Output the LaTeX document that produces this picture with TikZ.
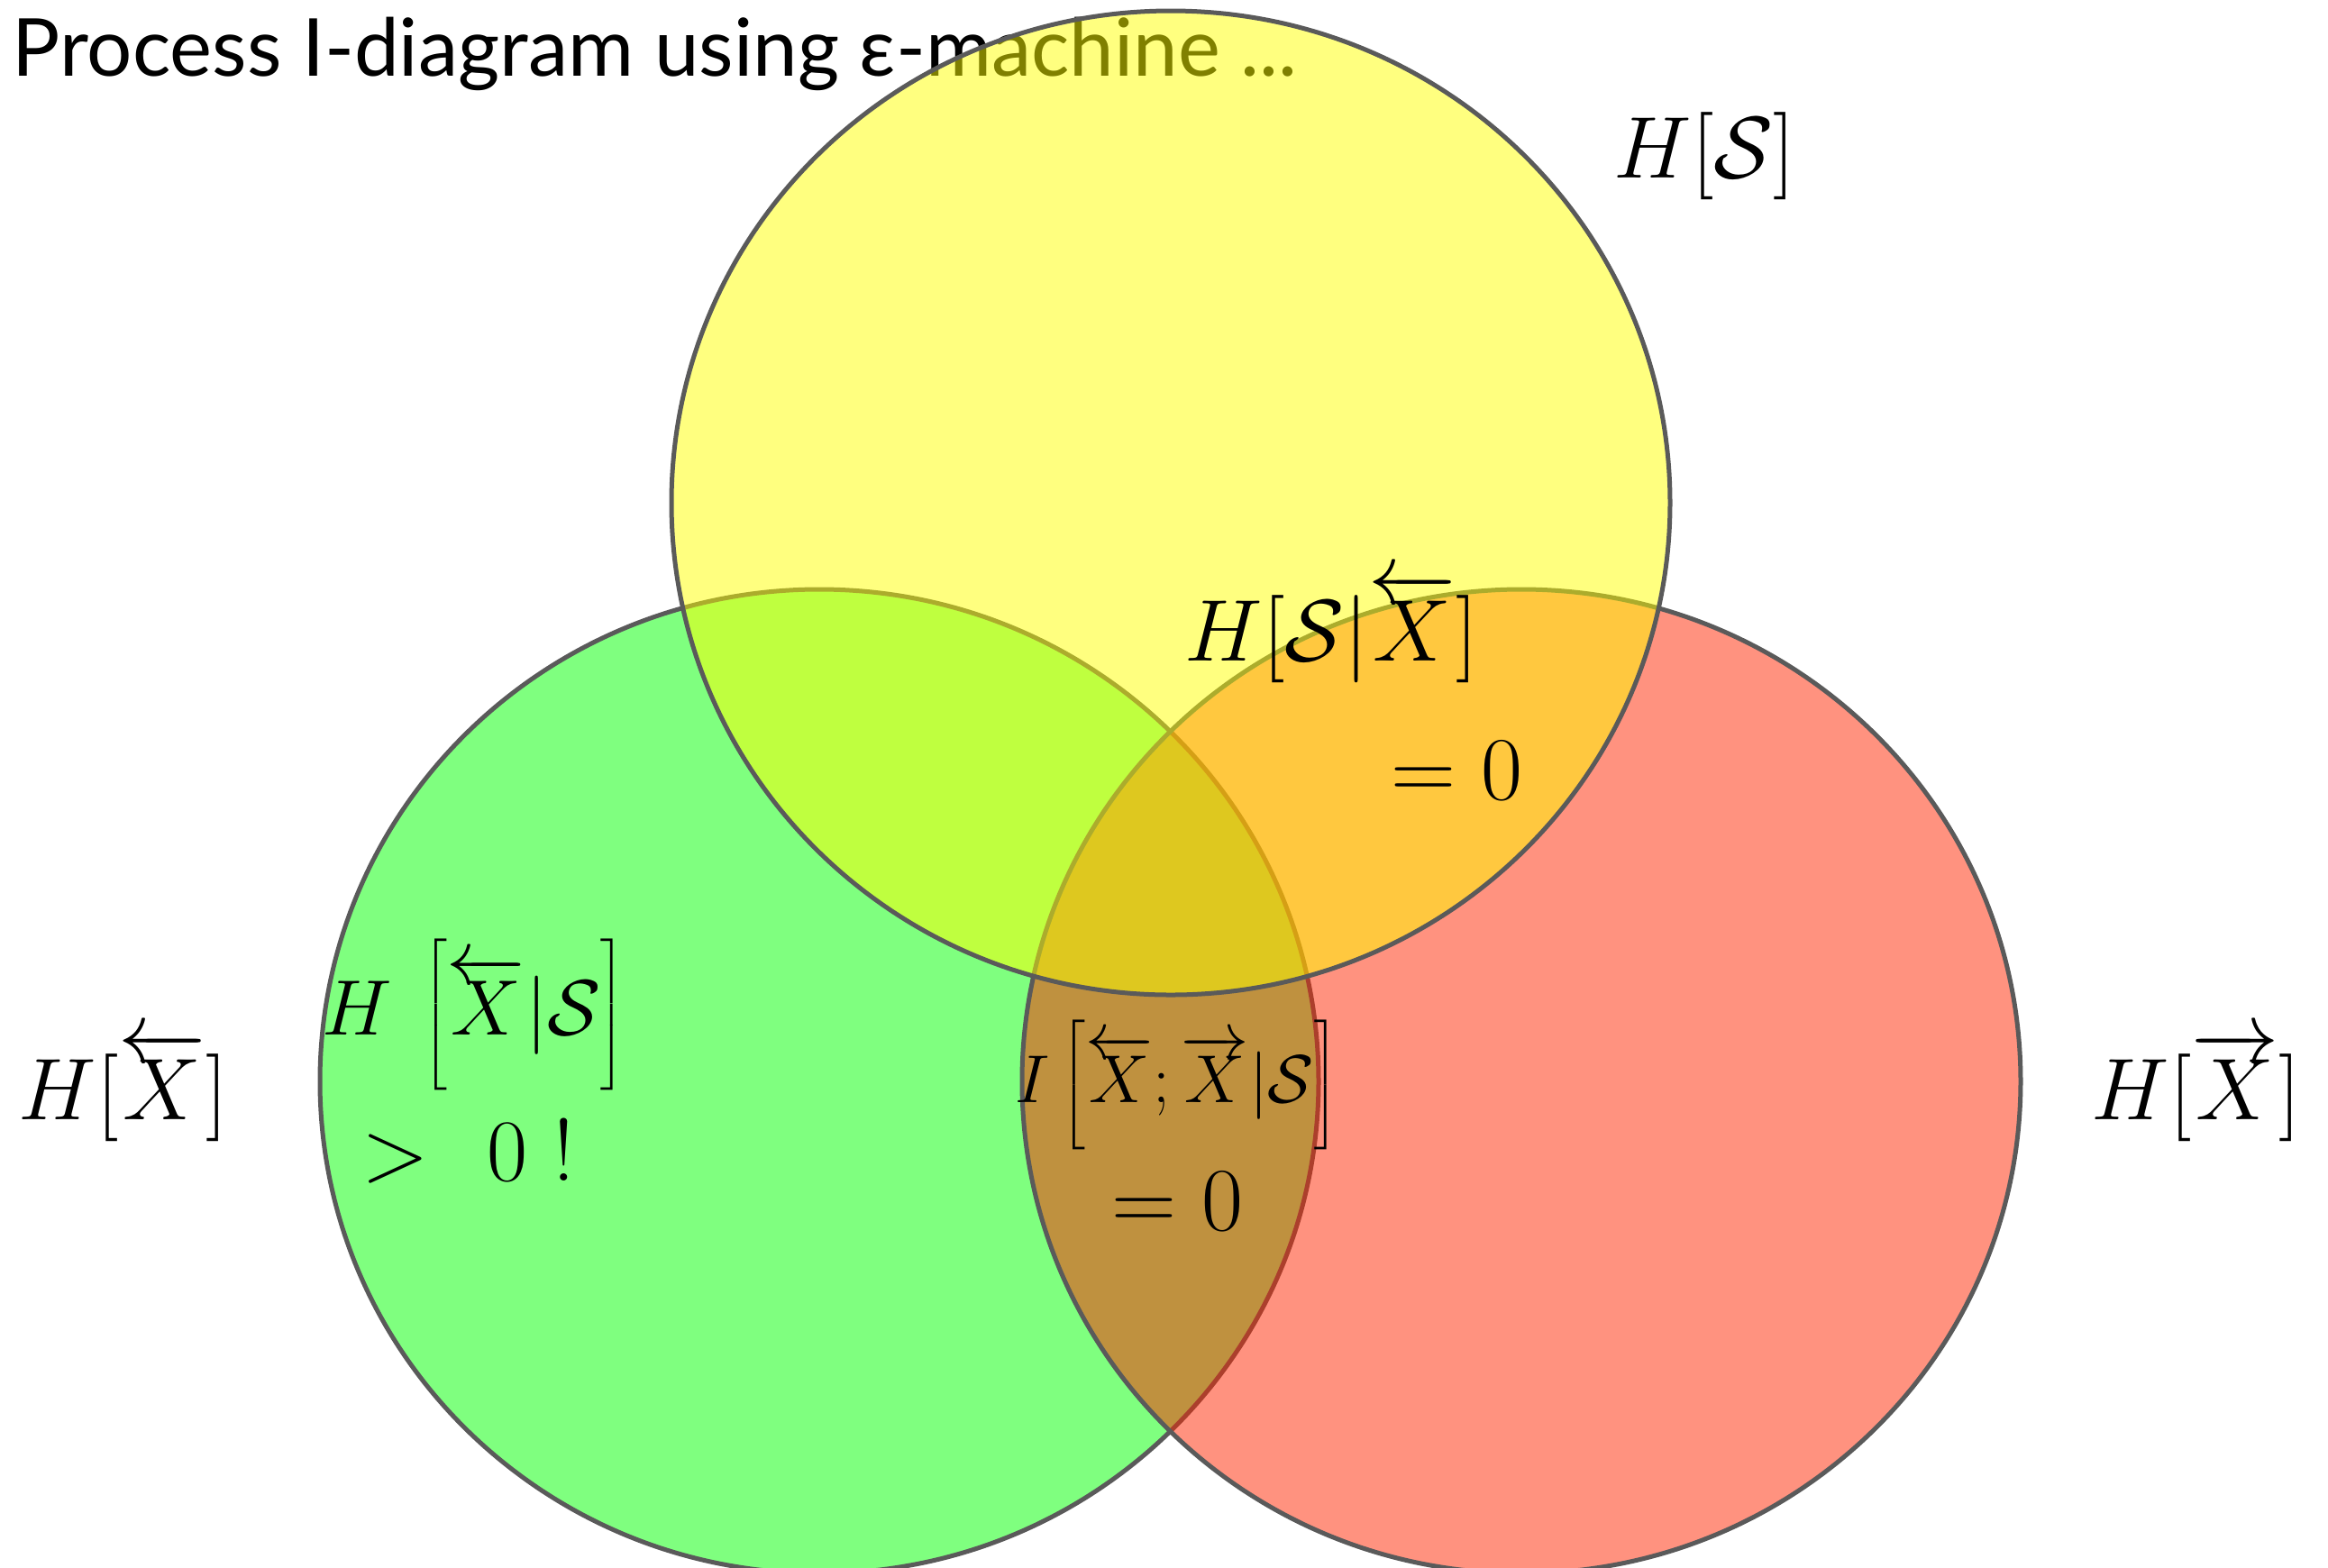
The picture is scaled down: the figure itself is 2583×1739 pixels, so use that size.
\RequirePackage{fix-cm}
\documentclass[tikz,border=0pt]{standalone}
\usepackage{fontspec}
\newfontfamily\titlefont{Lato}
\definecolor{greenF}{RGB}{0,255,0}
\definecolor{redF}{RGB}{255,37,0}
\definecolor{yellowF}{RGB}{255,255,0}
\definecolor{edgeG}{RGB}{90,90,90}
\newcommand{\tallstrut}{\rule[-0.62em]{0pt}{1.72em}}
\begin{document}
\begin{tikzpicture}[x=0.25pt,y=-0.25pt,
  circ/.style={draw=edgeG, line width=1.25pt, fill opacity=0.5, draw opacity=1},
  mlabel/.style={inner sep=0pt, font=\fontsize{24.3}{29}\selectfont, anchor=base west},
  zlabel/.style={inner sep=0pt, font=\fontsize{25}{30}\selectfont, anchor=base west},
  titlestyle/.style={inner sep=0pt, anchor=base west, font=\titlefont\fontsize{22.2}{26}\selectfont}]
\useasboundingbox (0,0) rectangle (2583,1739);
\node[titlestyle] (title) at (13,84) {Process I-diagram using ε-machine ...};
\path[circ, fill=greenF] (909,1200) ellipse [x radius=138.5pt, y radius=136.5pt];
\path[circ, fill=redF] (1688,1200) ellipse [x radius=138.5pt, y radius=136.5pt];
\path[circ, fill=yellowF] (1299,558) ellipse [x radius=138.5pt, y radius=136.5pt];
\node[mlabel] (hs) at (1790,197) {$H[\mathcal{S}]$};
\node[mlabel] (hsx) at (1314,733) {$H[\mathcal{S}|\overleftarrow{X}]$};
\node[zlabel] (hsxz) at (1543,887) {$=0$};
\node[mlabel, font=\fontsize{21.8}{26}\selectfont] (hxs) at (357,1148) {\delimitershortfall=0pt\delimiterfactor=1000$H\mkern4mu\left[\tallstrut\overleftarrow{X}|\mathcal{S}\right]$};
\node[mlabel, font=\fontsize{24.5}{29}\selectfont] (gt) at (401,1310) {$>$\hspace{16pt}$0$\hspace{7pt}$!$};
\node[mlabel, font=\fontsize{18.8}{22}\selectfont] (ixx) at (1126,1223) {\delimitershortfall=0pt\delimiterfactor=1000$I\left[\tallstrut\overleftarrow{X};\overrightarrow{X}|\mathcal{S}\right]$};
\node[zlabel] (ixxz) at (1233,1365) {$=0$};
\node[mlabel] (hpast) at (20,1242) {$H[\overleftarrow{X}]$};
\node[mlabel] (hfut) at (2320,1242) {$H[\overrightarrow{X}]$};
\end{tikzpicture}
\end{document}
